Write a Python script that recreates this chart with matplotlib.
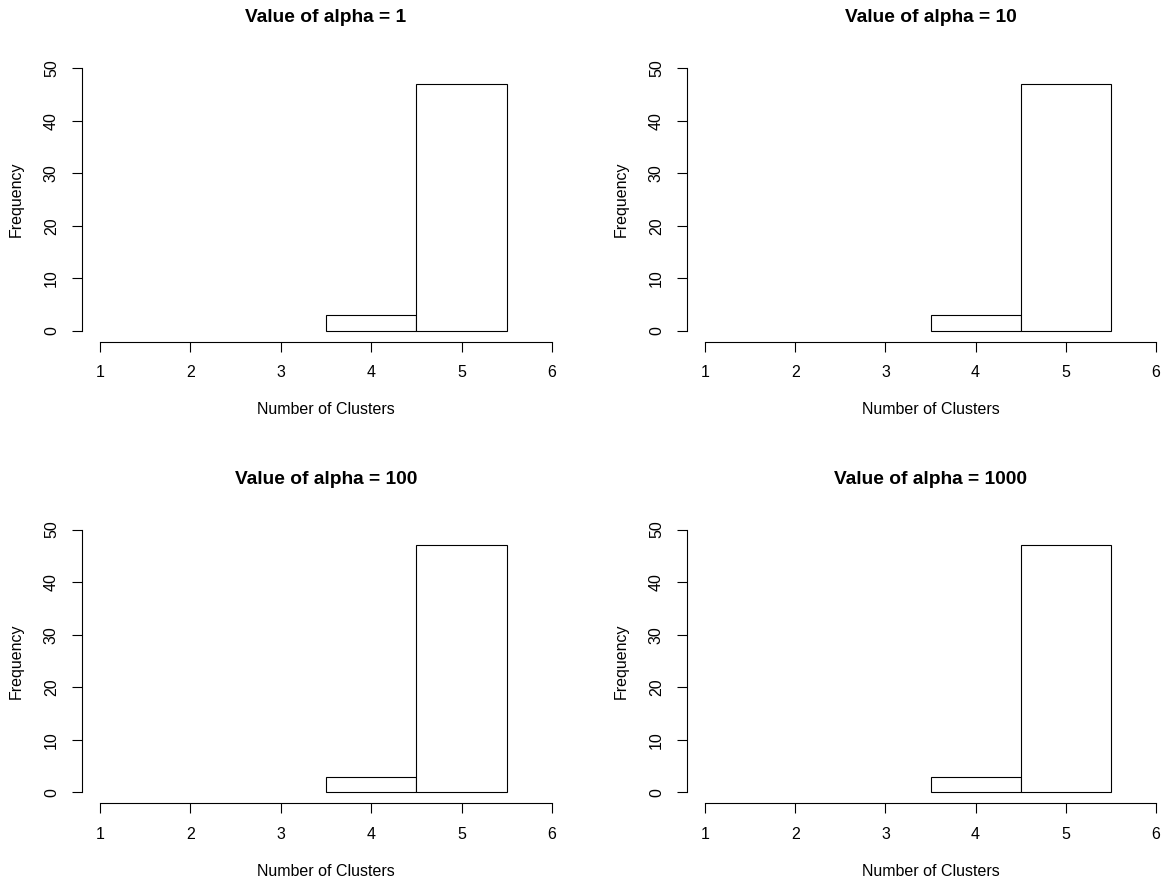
import matplotlib
matplotlib.use("Agg")
import matplotlib.pyplot as plt

plt.rcParams["font.family"] = ["Liberation Sans", "DejaVu Sans"]

# ---- data ---------------------------------------------------------------
ALPHAS = [1, 10, 100, 1000]
BIN_EDGES = [3.5, 4.5, 5.5]
BIN_MIDS = [4, 5]
COUNTS = {  # alpha -> frequency per bin
    1: [3, 47],
    10: [3, 47],
    100: [3, 47],
    1000: [3, 47],
}
X_TICKS = [1, 2, 3, 4, 5, 6]
Y_TICKS = [0, 10, 20, 30, 40, 50]

W, H = 1164, 882
fig = plt.figure(figsize=(W / 100, H / 100), dpi=100)

# plot regions in pixels (left, top, right, bottom), R-style panels
COLS = [(82, 570), (687, 1174)]
ROWS = [(57.5, 341.5), (519, 803)]

lw = 0.8
for i, a in enumerate(ALPHAS):
    x0, x1 = COLS[i % 2]
    y0, y1 = ROWS[i // 2]
    ax = fig.add_axes([x0 / W, 1 - y1 / H, (x1 - x0) / W, (y1 - y0) / H])
    ax.hist(BIN_MIDS, bins=BIN_EDGES, weights=COUNTS[a], histtype="bar",
            facecolor="white", edgecolor="black", linewidth=lw, rwidth=1.0)
    ax.set_xlim(0.8, 6.2)
    ax.set_ylim(-2, 52)
    for s in ("top", "right"):
        ax.spines[s].set_visible(False)
    ax.spines["left"].set_bounds(0, 50)
    ax.spines["bottom"].set_bounds(1, 6)
    for s in ("left", "bottom"):
        ax.spines[s].set_linewidth(lw)
    ax.set_xticks(X_TICKS)
    ax.set_yticks(Y_TICKS)
    ax.tick_params(axis="x", length=7.2, width=lw, pad=10, labelsize=11.5)
    ax.tick_params(axis="y", length=7.2, width=lw, pad=9.4, labelsize=11.5,
                   labelrotation=90)
    for t in ax.get_yticklabels():
        t.set_va("center")
    ax.text(0.5, 1 + 39.5 / 284, f"Value of alpha = {a}", transform=ax.transAxes,
            ha="center", va="center", fontsize=13.8, fontweight="bold")
    ax.text(0.5, -68 / 284, "Number of Clusters", transform=ax.transAxes,
            ha="center", va="center", fontsize=11.5)
    ax.text(-66 / 488, 0.5, "Frequency", transform=ax.transAxes, rotation=90,
            ha="center", va="center", fontsize=11.5)
    ax.patch.set_visible(False)

fig.savefig("out.png", dpi=100)
